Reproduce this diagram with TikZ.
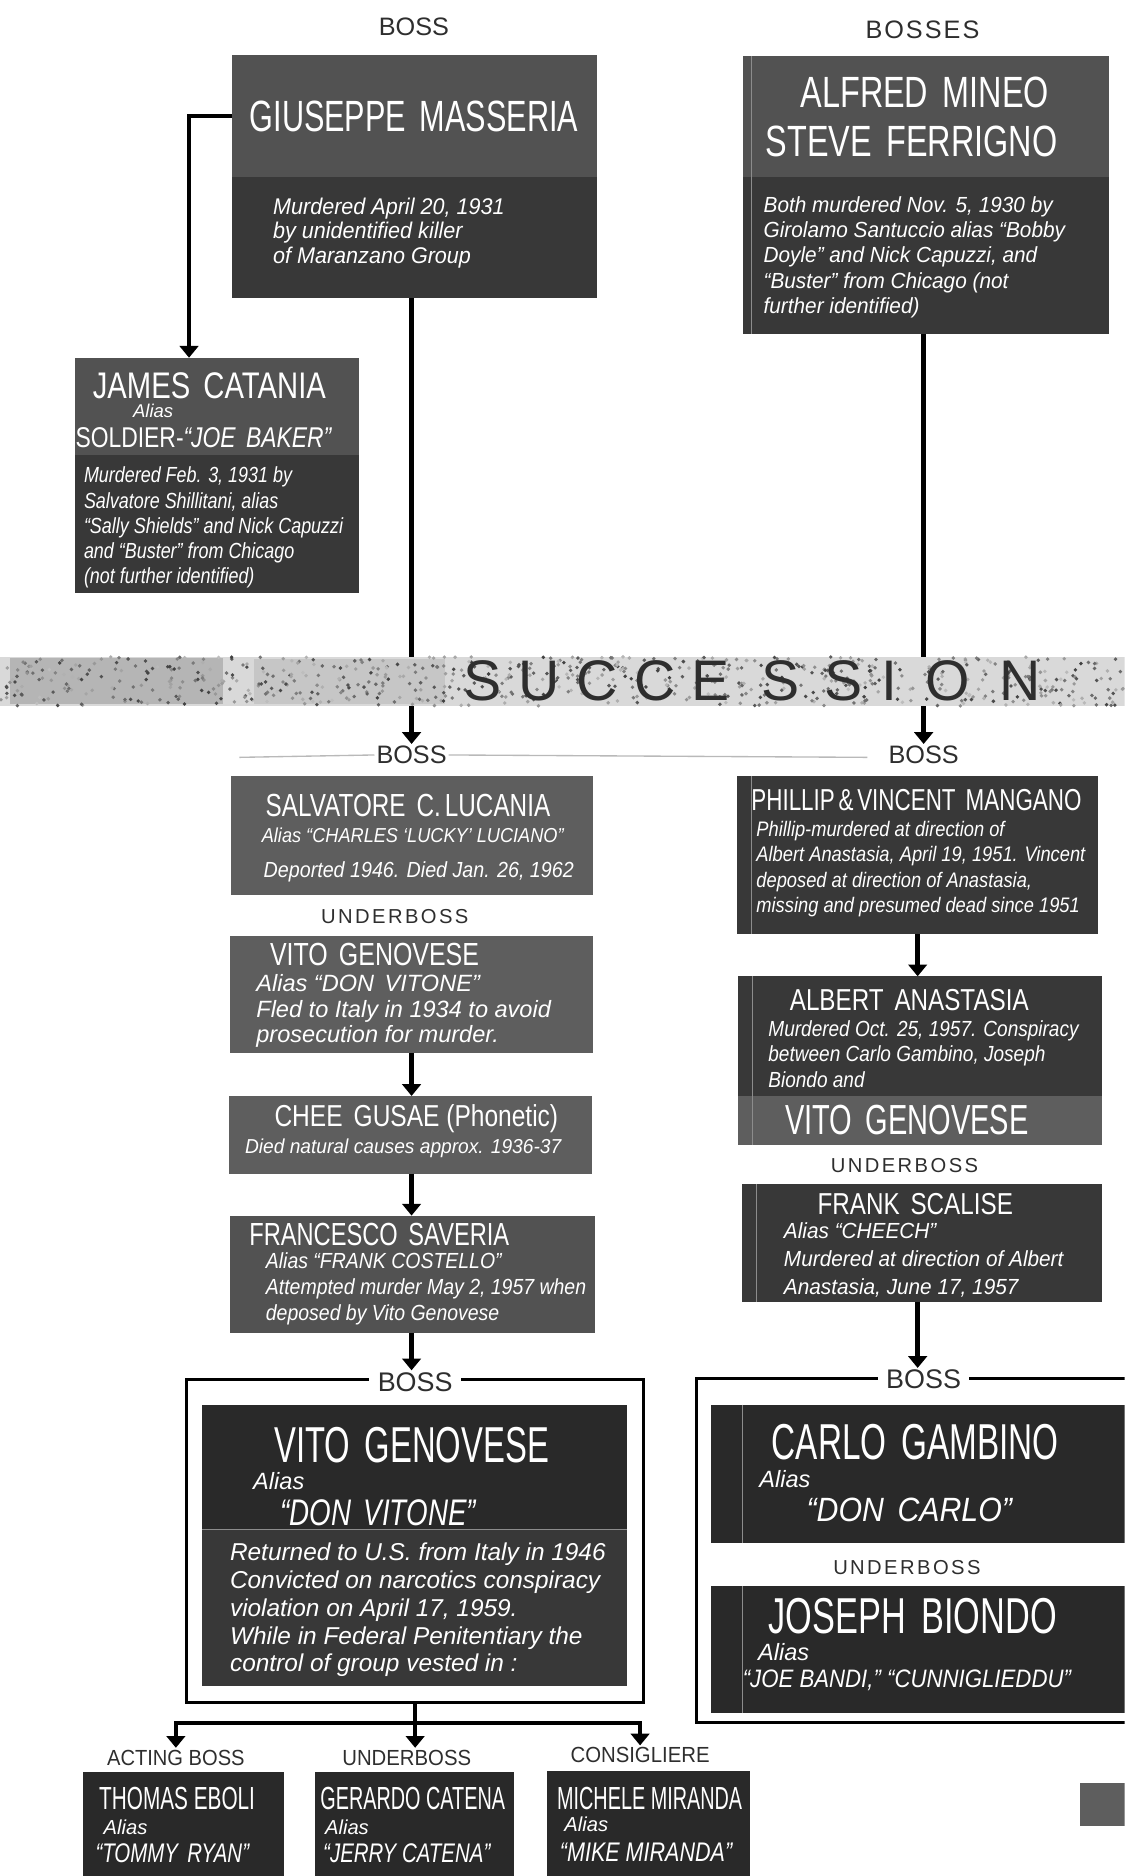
\documentclass[tikz,border=0pt]{standalone}
\usepackage{fontspec}
\setmainfont{Liberation Sans}
\newfontfamily\ubfont[LetterSpace=12]{Liberation Sans}
\newfontfamily\bossesfont[LetterSpace=8]{Liberation Sans}
\usetikzlibrary{arrows.meta,fit,positioning}

\newcommand{\fsz}[2]{\fontsize{#1}{#2}\selectfont}
\newcommand{\wgap}{\hspace{0.45em}}

\definecolor{plateA}{gray}{0.32}
\definecolor{plateB}{gray}{0.22}
\definecolor{plateC}{gray}{0.37}
\definecolor{plateD}{gray}{0.16}
\definecolor{ink}{gray}{0.18}

\tikzset{
  panel/.style={fill=#1, inner sep=0pt, outer sep=0pt},
  nm/.style={text=white, inner sep=0pt, font=\fsz{#1}{#1}},
  al/.style={text=white, inner sep=0pt, font=\itshape\fsz{#1}{#1}},
  det/.style={text=white, inner sep=0pt, anchor=north west, align=left, font=\itshape\fsz{13}{15}},
  rank/.style={text=ink, inner sep=1pt, font=\fsz{#1}{#1}},
  link/.style={line width=2.6pt, -{Triangle[width=11pt,length=7pt]}},
  bar/.style={line width=2.6pt},
  rim/.style={draw=black, line width=1.7pt, inner sep=0pt, outer sep=0pt},
  seam/.style={draw=white!55!black, line width=0.6pt},
}

\begin{document}
\begin{tikzpicture}[x=0.025cm, y=-0.025cm]
\useasboundingbox (0,0) rectangle (940,1568);
\clip (0,0) rectangle (940,1568);

% the old bosses
\node[rank=15] (bossTop) at (346,22) {BOSS};
\node[rank=15] (bossesTop) at (771,25) {\bossesfont BOSSES};

\node[panel=plateA, fit={(194,46) (499,249)}] (mass) {};
\fill[plateB] (194,148) rectangle (mass.south east);
\node[nm=26, xscale=0.70] (massName) at (346,97) {GIUSEPPE\wgap MASSERIA};
\node[det, font=\itshape\fsz{13.5}{14.6}, xscale=0.95] (massText) at (228,165)
  {Murdered April 20, 1931\\by unidentified killer\\of Maranzano Group};

\node[panel=plateA, fit={(63,299) (300,496)}] (cat) {};
\fill[plateB] (63,380) rectangle (cat.south east);
\node[nm=22, xscale=0.79] (catName) at (175,322) {JAMES\wgap CATANIA};
\node[al=11] (catAlias) at (128,343) {Alias};
\node[nm=17, xscale=0.8] (catSoldier) at (170,366) {SOLDIER-{\itshape``JOE\wgap BAKER''}};
\node[det, xscale=0.82] (catText) at (70,390)
  {Murdered Feb. 3, 1931 by\\Salvatore Shillitani, alias\\``Sally Shields'' and Nick Capuzzi\\and ``Buster'' from Chicago\\(not further identified)};

\coordinate (catBend) at (158,97);
\draw[link] (mass.west |- catBend) -- (catBend) -- (catBend |- cat.north);

\node[panel=plateA, fit={(621,47) (927,279)}] (mineo) {};
\fill[plateB] (621,148) rectangle (mineo.south east);
\draw[seam] (628,47) -- (628,279);
\node[nm=26, xscale=0.74] (mineoName1) at (773,77) {ALFRED\wgap MINEO};
\node[nm=26, xscale=0.74] (mineoName2) at (762,118) {STEVE\wgap FERRIGNO};
\node[det, xscale=0.95] (mineoText) at (638,164)
  {Both murdered Nov. 5, 1930 by\\Girolamo Santuccio alias ``Bobby\\Doyle'' and Nick Capuzzi, and\\``Buster'' from Chicago (not\\further identified)};

% succession
\node[rank=15] (bossL) at (344,631) {BOSS};
\node[rank=15] (bossR) at (772,631) {BOSS};
\coordinate (fadeA) at (200,633);
\coordinate (fadeB) at (725,633);
\draw[gray!55, line width=0.8pt] (fadeA) -- (bossL.west);
\draw[gray!55, line width=0.8pt] (bossL.east) -- (fadeB);

\draw[link] (mass.south -| bossL.north) -- (bossL.north);
\draw[link] (mineo.south -| bossR.north) -- (bossR.north);

\fill[gray!30] (0,549) rectangle (940,590);
\fill[gray!58] (8,550) rectangle (186,588);
\fill[gray!45] (212,551) rectangle (372,588);
\pgfmathsetseed{11}
\foreach \k in {1,...,700}{
  \pgfmathsetmacro{\sx}{rnd*940}
  \pgfmathsetmacro{\sy}{549+rnd*41}
  \pgfmathsetmacro{\sg}{25+rnd*50}
  \fill[black!\sg] (\sx,\sy) circle[radius=1.6];
}
\foreach \ch/\xx in {S/403, U/451, C/499, C/548, E/594, S/652, S/705, I/743, O/792, N/853}
  \node[text=ink, inner sep=0pt, font=\fsz{34}{34}] (succ-\xx) at (\xx,569) {\ch};

% left line of succession
\node[panel=plateC, fit={(193,649) (496,748)}] (luc) {};
\node[nm=19, xscale=0.76] (lucName) at (341,673) {SALVATORE\wgap C.\,LUCANIA};
\node[al=12, xscale=0.9] (lucAlias) at (345,698) {Alias ``CHARLES `LUCKY' LUCIANO''};
\node[al=13, xscale=0.9] (lucText) at (350,729) {Deported 1946. Died Jan. 26, 1962};

\node[rank=12] (ubL) at (330,766) {\ubfont UNDERBOSS};

\node[panel=plateC, fit={(192,782) (496,880)}] (gen1) {};
\node[nm=19, xscale=0.78] (gen1Name) at (313,798) {VITO\wgap GENOVESE};
\node[det, font=\itshape\fsz{14}{15.3}] (gen1Text) at (214,814)
  {Alias ``DON\wgap VITONE''\\Fled to Italy in 1934 to avoid\\prosecution for murder.};

\node[panel=plateC, fit={(191,916) (495,981)}] (chee) {};
\node[nm=18, xscale=0.81] (cheeName) at (348,935) {CHEE\wgap GUSAE (Phonetic)};
\node[al=12, xscale=0.95] (cheeText) at (337,960) {Died natural causes approx. 1936-37};

\node[panel=plateA, fit={(192,1016) (497,1114)}] (sav) {};
\node[nm=19, xscale=0.74] (savName) at (317,1032) {FRANCESCO\wgap SAVERIA};
\node[det, font=\itshape\fsz{13}{15.3}, xscale=0.89] (savText) at (222,1047)
  {Alias ``FRANK COSTELLO''\\Attempted murder May 2, 1957 when\\deposed by Vito Genovese};

\draw[link] (gen1.south) -- (gen1.south |- chee.north);
\draw[link] (chee.south -| gen1.south) -- (gen1.south |- sav.north);

\node[rim, fit={(156,1153) (538,1423)}] (frameL) {};
\node[rank=16, fill=white, inner xsep=5pt] (bossG) at (347,1155) {BOSS};
\draw[link] (sav.south -| gen1.south) -- (gen1.south |- bossG.north);

\node[panel=plateD, fit={(169,1174) (524,1409)}] (gen2) {};
\fill[plateB] (169,1279) rectangle (gen2.south east);
\draw[seam] (169,1278) -- (524,1278);
\node[nm=30, xscale=0.65] (gen2Name) at (344,1208) {VITO\wgap GENOVESE};
\node[al=14] (gen2Alias) at (233,1238) {Alias};
\node[al=22, xscale=0.75] (gen2Nick) at (316,1264) {``DON\wgap VITONE''};
\node[det, font=\itshape\fsz{14.5}{16.6}] (gen2Text) at (192,1289)
  {Returned to U.S. from Italy in 1946\\Convicted on narcotics conspiracy\\violation on April 17, 1959.\\While in Federal Penitentiary the\\control of group vested in :};

% group under Genovese
\coordinate (split) at (347,1440);
\node[rank=13, xscale=0.92] (actL) at (147,1469) {ACTING BOSS};
\node[rank=13, xscale=0.93] (ubB) at (340,1469) {UNDERBOSS};
\node[rank=13, xscale=0.93] (conL) at (535,1467) {CONSIGLIERE};
\draw[bar] (frameL.south) -- (split);
\draw[link] (split) -| (actL.north);
\draw[link] (split) -- (split |- ubB.north);
\draw[link] (split) -| (conL.north);

\node[panel=plateD, fit={(69,1481) (237,1572)}] (eboli) {};
\node[nm=19, xscale=0.65] (eboliName) at (148,1503) {THOMAS EBOLI};
\node[al=12] (eboliAlias) at (105,1527) {Alias};
\node[al=16, xscale=0.76] (eboliNick) at (144,1549) {``TOMMY\wgap RYAN''};

\node[panel=plateD, fit={(263,1481) (430,1572)}] (catena) {};
\node[nm=19, xscale=0.62] (catenaName) at (345,1503) {GERARDO CATENA};
\node[al=12] (catenaAlias) at (290,1527) {Alias};
\node[al=16, xscale=0.76] (catenaNick) at (340,1549) {``JERRY CATENA''};

\node[panel=plateD, fit={(457,1480) (627,1572)}] (miranda) {};
\node[nm=19, xscale=0.62] (mirandaName) at (543,1503) {MICHELE MIRANDA};
\node[al=12] (mirandaAlias) at (490,1525) {Alias};
\node[al=16, xscale=0.8] (mirandaNick) at (540,1548) {``MIKE MIRANDA''};

% right line of succession
\node[panel=plateB, fit={(616,649) (918,781)}] (mang) {};
\draw[seam] (628,649) -- (628,781);
\node[nm=18, xscale=0.74] (mangName) at (766,669) {PHILLIP\,\&\,VINCENT\wgap MANGANO};
\node[det, font=\itshape\fsz{12.5}{15.1}, xscale=0.87] (mangText) at (632,686)
  {Phillip-murdered at direction of\\Albert Anastasia, April 19, 1951. Vincent\\deposed at direction of Anastasia,\\missing and presumed dead since 1951};

\node[panel=plateB, fit={(617,816) (921,957)}] (anast) {};
\fill[plateC] (617,916) rectangle (anast.south east);
\draw[seam] (629,816) -- (629,957);
\node[nm=18, xscale=0.8] (anastName) at (760,836) {ALBERT\wgap ANASTASIA};
\node[det, font=\itshape\fsz{13}{15}, xscale=0.87] (anastText) at (642,853)
  {Murdered Oct. 25, 1957. Conspiracy\\between Carlo Gambino, Joseph\\Biondo and};
\node[nm=25, xscale=0.69] (anastGen) at (758,936) {VITO\wgap GENOVESE};

\node[rank=12] (ubR) at (756,974) {\ubfont UNDERBOSS};

\node[panel=plateB, fit={(620,990) (921,1088)}] (scal) {};
\draw[seam] (632,990) -- (632,1088);
\node[nm=18, xscale=0.8] (scalName) at (765,1006) {FRANK\wgap SCALISE};
\node[det, font=\itshape\fsz{13}{16.4}, xscale=0.95] (scalText) at (655,1022)
  {Alias ``CHEECH''\\Murdered at direction of Albert\\Anastasia, June 17, 1957};

\draw[link] (mang.south) -- (mang.south |- anast.north);

\node[rim, fit={(582,1152) (990,1440)}] (frameR) {};
\node[rank=16, fill=white, inner xsep=5pt] (bossG2) at (772,1153) {BOSS};
\draw[link] (scal.south -| mang.south) -- (mang.south |- bossG2.north);

\node[panel=plateD, fit={(594,1174) (990,1290)}] (gamb) {};
\draw[seam] (621,1174) -- (621,1290);
\node[nm=30, xscale=0.66] (gambName) at (765,1205) {CARLO\wgap GAMBINO};
\node[al=14] (gambAlias) at (656,1236) {Alias};
\node[al=20, xscale=0.9] (gambNick) at (760,1262) {``DON\wgap CARLO''};

\node[rank=12] (ubR2) at (758,1310) {\ubfont UNDERBOSS};

\node[panel=plateD, fit={(594,1326) (990,1432)}] (biond) {};
\draw[seam] (621,1326) -- (621,1432);
\node[nm=30, xscale=0.68] (biondName) at (763,1351) {JOSEPH\wgap BIONDO};
\node[al=14] (biondAlias) at (655,1381) {Alias};
\node[al=15, xscale=0.88] (biondNick) at (758,1404) {``JOE BANDI,'' ``CUNNIGLIEDDU''};

\fill[plateC] (903,1490) rectangle (945,1526);

\end{tikzpicture}
\end{document}
